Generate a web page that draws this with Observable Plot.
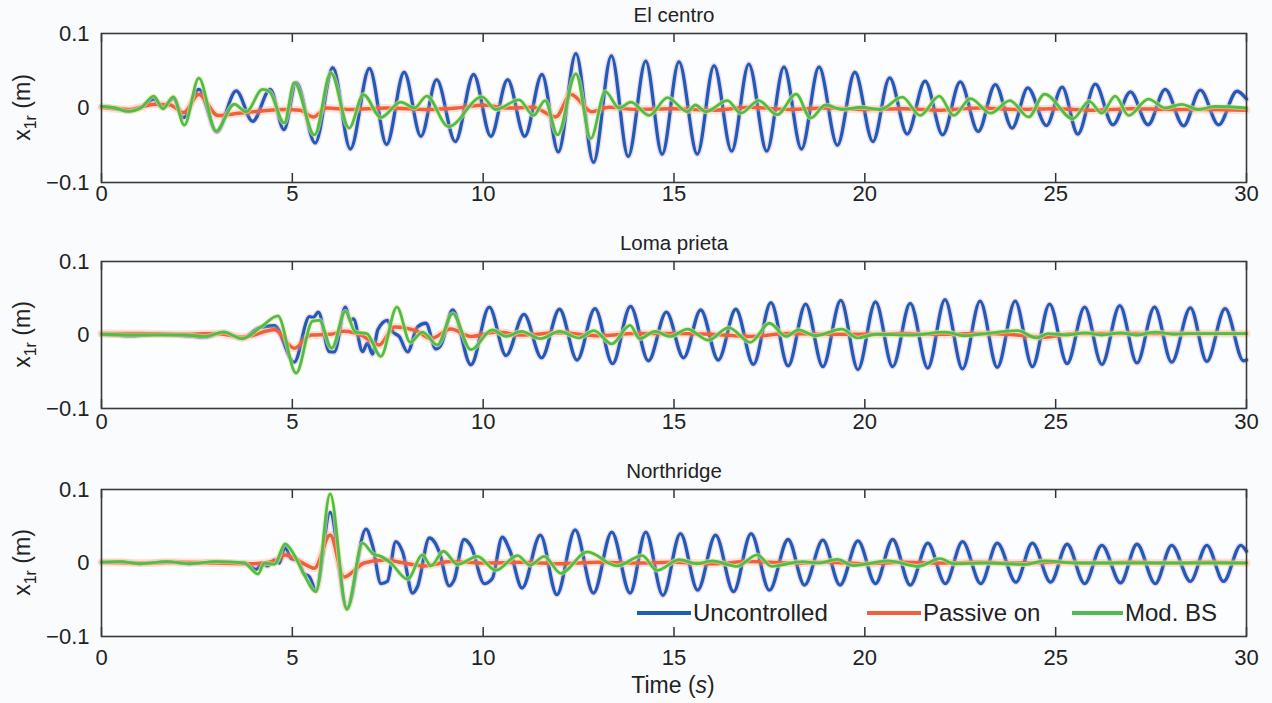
<!DOCTYPE html>
<html>
<head>
<meta charset="utf-8">
<script src="https://cdn.jsdelivr.net/npm/d3@7"></script>
<script src="https://cdn.jsdelivr.net/npm/@observablehq/plot@0.6"></script>
<style>
  html, body { margin: 0; padding: 0; background: #fafbfd; }
  #wrap { position: relative; width: 1272px; height: 703px; font-family: "Liberation Sans", Arial, Helvetica, sans-serif; }
  #wrap svg { position: absolute; left: 0; }
  .legend { position: absolute; top: 599px; height: 28px; display: flex; align-items: center; font-size: 24px; color: #222; }
  .legend .sw { display: inline-block; height: 4px; margin-right: 2px; }
  .xlabel { position: absolute; left: 0; width: 1346px; top: 672px; text-align: center; font-size: 23px; color: #222; }
</style>
</head>
<body>
<div id="wrap"></div>
<script>
// ---------------- data: [time (s), x1r (m)] ----------------
const xTicks = [0, 5, 10, 15, 20, 25, 30];
const yTicks = [-0.1, 0, 0.1];
const seriesNames = ["Uncontrolled", "Passive on", "Mod. BS"];
const panelTitles = ["El centro", "Loma prieta", "Northridge"];

const elCentroUncontrolled = [[0,0.002],[0.35,0.0],[0.7,-0.004],[1.05,0.001],[1.37,0.012],[1.61,0.0],[1.88,0.013],[2.15,-0.013],[2.55,0.025],[3.02,-0.032],[3.53,0.023],[3.96,-0.018],[4.42,0.025],[4.78,-0.029],[5.1,0.034],[5.6,-0.047],[6.06,0.054],[6.52,-0.055],[7.02,0.053],[7.47,-0.049],[7.93,0.048],[8.37,-0.038],[8.78,0.038],[9.27,-0.045],[9.75,0.045],[10.2,-0.038],[10.64,0.038],[11.09,-0.038],[11.54,0.045],[11.97,-0.059],[12.43,0.073],[12.89,-0.073],[13.36,0.07],[13.8,-0.065],[14.26,0.063],[14.69,-0.062],[15.13,0.062],[15.61,-0.062],[16.05,0.057],[16.51,-0.058],[16.96,0.059],[17.43,-0.058],[17.88,0.055],[18.34,-0.055],[18.8,0.055],[19.28,-0.05],[19.74,0.048],[20.21,-0.045],[20.65,0.0405],[21.11,-0.035],[21.58,0.036],[22.04,-0.036],[22.5,0.035],[22.97,-0.0315],[23.42,0.0315],[23.86,-0.027],[24.27,0.027],[24.76,-0.0235],[25.17,0.028],[25.58,-0.035],[26.04,0.032],[26.5,-0.0225],[26.96,0.0216],[27.42,-0.0225],[27.87,0.025],[28.35,-0.024],[28.79,0.024],[29.27,-0.0225],[29.75,0.0225],[30,0.012]];
const elCentroPassive = [[0,0.001],[0.7,-0.002],[1.4,0.005],[1.8,0.004],[2.15,-0.006],[2.55,0.018],[3.05,-0.01],[3.6,-0.007],[4.2,-0.004],[4.8,-0.002],[5.2,-0.003],[5.55,-0.012],[5.9,0.0],[6.5,-0.002],[7.5,0.0],[8.5,-0.002],[9.3,0.0],[10.0,0.004],[10.6,0.0],[11.3,0.001],[11.9,-0.012],[12.3,0.018],[12.85,-0.005],[13.3,0.001],[14,-0.002],[15,-0.001],[16,-0.003],[17,0.001],[18,-0.002],[19,0.0],[20,-0.002],[21,-0.001],[22,-0.003],[23,0.0],[24,-0.002],[25,-0.001],[26,-0.003],[27,-0.001],[28,-0.002],[29,-0.002],[30,-0.003]];
const elCentroModBS = [[0,0.002],[0.35,0.0],[0.7,-0.0045],[1.05,0.001],[1.37,0.016],[1.61,-0.001],[1.88,0.015],[2.17,-0.023],[2.55,0.04],[3.0,-0.031],[3.48,0.005],[3.79,-0.005],[4.22,0.025],[4.4,0.022],[4.79,-0.02],[5.05,0.034],[5.58,-0.036],[6.01,0.047],[6.49,-0.027],[6.86,0.018],[7.32,-0.0126],[7.84,0.008],[8.2,0.0],[8.52,0.016],[9.09,-0.025],[9.97,0.015],[10.33,-0.002],[10.94,0.011],[11.32,-0.01],[11.62,0.01],[11.95,-0.036],[12.43,0.046],[12.82,-0.041],[13.2,0.022],[13.56,0.0],[13.87,0.008],[14.35,-0.01],[14.83,0.014],[15.35,-0.005],[15.56,0.004],[15.83,-0.005],[16.4,0.01],[16.75,-0.007],[17.22,0.01],[17.7,-0.009],[18.2,0.0185],[18.58,-0.0135],[18.97,0.004],[19.41,-0.002],[19.9,0.001],[20.4,-0.002],[20.98,0.0145],[21.45,-0.01],[21.95,0.016],[22.33,-0.01],[22.77,0.0126],[23.29,-0.007],[23.8,0.01],[24.29,-0.012],[24.71,0.0185],[25.45,-0.0144],[25.88,0.009],[26.21,-0.007],[26.56,0.016],[26.91,-0.01],[27.43,0.012],[27.87,0.0],[28.3,0.005],[28.73,-0.002],[29.17,0.002],[30,0.0]];

const lomaPrietaUncontrolled = [[0,0.001],[0.8,-0.001],[1.5,0.001],[2.2,-0.001],[2.7,-0.003],[3.2,0.004],[3.68,-0.005],[4.14,0.01],[4.53,0.0126],[5.05,-0.037],[5.45,0.025],[5.55,0.024],[5.68,0.031],[5.97,-0.0225],[6.1,-0.023],[6.39,0.038],[6.52,0.02],[6.6,0.022],[6.84,-0.0225],[6.97,-0.011],[7.1,-0.026],[7.24,0.007],[7.49,0.02],[7.63,0.0045],[7.8,-0.002],[8.02,-0.023],[8.28,0.011],[8.5,0.016],[8.76,-0.019],[8.89,-0.014],[9.2,0.034],[9.68,-0.0405],[10.16,0.038],[10.6,-0.028],[11.07,0.028],[11.53,-0.031],[12.0,0.035],[12.46,-0.034],[12.93,0.036],[13.39,-0.039],[13.86,0.039],[14.33,-0.035],[14.8,0.031],[15.25,-0.031],[15.7,0.034],[16.16,-0.034],[16.62,0.035],[17.08,-0.04],[17.54,0.044],[17.99,-0.042],[18.45,0.042],[18.9,-0.043],[19.37,0.047],[19.82,-0.047],[20.28,0.045],[20.73,-0.043],[21.19,0.043],[21.65,-0.045],[22.1,0.048],[22.56,-0.046],[23.02,0.046],[23.47,-0.044],[23.94,0.046],[24.39,-0.043],[24.84,0.042],[25.3,-0.039],[25.76,0.038],[26.21,-0.04],[26.68,0.04],[27.13,-0.038],[27.59,0.038],[28.04,-0.037],[28.53,0.037],[28.96,-0.036],[29.44,0.036],[29.92,-0.035],[30,-0.034]];
const lomaPrietaPassive = [[0,0.002],[1,0.002],[2,0.001],[3,0.002],[3.7,-0.003],[4.53,0.007],[5.05,-0.018],[5.49,0.0],[6.0,0.001],[6.36,0.005],[6.8,0.0],[7.28,-0.0135],[7.67,0.011],[8.28,0.005],[8.63,-0.005],[9.15,0.008],[9.68,-0.002],[10.37,0.004],[11,0.0],[12,0.003],[13,-0.001],[14,0.002],[15,0.002],[16,0.001],[17,-0.002],[18,0.002],[19,0.001],[20,0.001],[21,0.002],[22,0.001],[23,0.002],[24,0.0],[24.7,-0.003],[25.5,0.002],[26.5,0.002],[27.5,0.002],[28.5,0.002],[29.5,0.002],[30,0.002]];
const lomaPrietaModBS = [[0,0.001],[0.8,0.0],[1.5,0.0],[2.2,0.0],[2.7,-0.002],[3.2,0.004],[3.68,-0.005],[4.18,0.011],[4.62,0.026],[5.1,-0.052],[5.53,0.019],[5.71,0.02],[6.03,-0.018],[6.39,0.032],[6.65,0.004],[6.95,0.002],[7.32,-0.029],[7.74,0.038],[8.09,-0.01],[8.41,0.004],[8.8,-0.0135],[9.2,0.029],[9.68,-0.02],[10.24,0.007],[10.6,-0.002],[11.0,0.005],[11.5,-0.005],[12.0,0.005],[12.5,-0.004],[12.9,0.006],[13.37,-0.012],[13.85,0.013],[14.1,-0.005],[14.5,0.005],[14.9,-0.002],[15.35,0.008],[15.9,-0.007],[16.43,0.01],[17.0,-0.01],[17.5,0.016],[17.94,-0.002],[18.26,0.007],[18.7,-0.001],[19.4,0.008],[19.8,-0.004],[20.3,0.001],[21.2,0.0],[22.1,0.004],[22.6,-0.001],[23.0,0.001],[24.0,0.006],[24.5,-0.004],[24.8,0.002],[25.3,0.0],[25.77,0.003],[26.2,0.0],[26.7,0.003],[27.1,0.0],[27.6,0.004],[28.1,0.001],[28.5,0.002],[29.3,0.002],[30,0.002]];

const northridgeUncontrolled = [[0,0.001],[0.5,0.002],[1.0,-0.001],[1.7,0.002],[2.3,-0.001],[3.0,0.002],[3.5,0.0],[3.74,0.0],[4.05,-0.0086],[4.22,-0.001],[4.35,-0.004],[4.53,0.004],[4.66,0.0],[4.81,0.022],[4.97,0.006],[5.14,0.004],[5.3,-0.014],[5.45,-0.019],[5.62,-0.037],[5.99,0.069],[6.43,-0.062],[6.93,0.046],[7.11,0.022],[7.32,-0.028],[7.49,-0.025],[7.71,0.029],[7.89,0.015],[8.15,-0.041],[8.28,-0.032],[8.59,0.034],[8.72,0.029],[8.85,0.015],[9.11,-0.031],[9.24,-0.023],[9.5,0.032],[9.68,0.023],[10.03,-0.028],[10.24,-0.021],[10.5,0.035],[10.7,0.017],[11.02,-0.034],[11.5,0.038],[11.93,-0.043],[12.41,0.045],[12.89,-0.041],[13.37,0.042],[13.85,-0.041],[14.26,0.042],[14.71,-0.044],[15.17,0.04],[15.62,-0.037],[16.09,0.038],[16.56,-0.039],[17.02,0.04],[17.5,-0.037],[17.99,0.032],[18.42,-0.03],[18.9,0.031],[19.35,-0.03],[19.82,0.03],[20.28,-0.028],[20.73,0.032],[21.19,-0.03],[21.65,0.027],[22.11,-0.028],[22.56,0.029],[23.04,-0.028],[23.47,0.027],[23.96,-0.026],[24.39,0.027],[24.87,-0.026],[25.3,0.0255],[25.76,-0.028],[26.21,0.024],[26.7,-0.027],[27.13,0.0255],[27.61,-0.028],[28.04,0.024],[28.53,-0.025],[28.96,0.024],[29.4,-0.025],[29.85,0.024],[30,0.016]];
const northridgePassive = [[0,0.001],[1,0.0],[2,0.001],[3,0.0],[4,-0.001],[4.5,0.002],[4.81,0.011],[5.2,0.002],[5.58,-0.007],[5.99,0.038],[6.36,-0.019],[6.88,0.0],[7.41,0.004],[7.93,0.0],[8.46,-0.004],[9.15,0.002],[10,0.0],[11,0.001],[12,-0.001],[13,0.001],[14,0.0],[15,0.001],[16,-0.001],[17,0.002],[18,0.0],[19,0.001],[20,-0.001],[21,0.001],[22,0.0],[23,0.001],[24,0.0],[25,0.001],[26,0.0],[27,0.001],[28,0.0],[29,0.001],[30,0.0]];
const northridgeModBS = [[0,0.001],[0.5,0.002],[1.0,-0.001],[1.7,0.002],[2.3,-0.001],[3.0,0.002],[3.74,0.0],[4.1,-0.015],[4.27,0.0],[4.53,-0.002],[4.81,0.026],[5.05,0.011],[5.31,-0.016],[5.62,-0.039],[5.99,0.094],[6.43,-0.063],[6.84,0.027],[7.11,0.0126],[7.32,0.009],[7.58,0.0],[8.02,-0.022],[8.41,0.011],[8.63,-0.004],[8.96,0.016],[9.33,-0.002],[9.85,0.009],[10.33,-0.01],[10.9,0.01],[11.23,-0.003],[11.6,0.009],[12.03,-0.014],[12.73,0.015],[13.5,-0.004],[14.17,0.01],[14.55,-0.01],[15.14,0.0045],[15.6,-0.001],[16.0,0.003],[16.65,-0.0045],[17.18,0.011],[17.56,-0.0045],[18.37,0.002],[18.8,0.0],[19.28,0.005],[19.7,-0.0035],[20.62,0.003],[21.4,-0.0045],[21.97,0.006],[22.34,-0.001],[23.2,0.0],[24.2,-0.002],[24.7,0.003],[25.5,0.0],[26.5,0.0],[27.5,0.0],[28.5,0.0],[30,0.0]];

// ---------------- styling ----------------
const colors = {unc: "#1f5cb8", pas: "#f0603a", bs: "#50bb4e"};
const W = 1272;
const panels = [
  {title: panelTitles[0], unc: elCentroUncontrolled, pas: elCentroPassive, bs: elCentroModBS, top: 0, height: 228, mb: 46, pad: 3},
  {title: panelTitles[1], unc: lomaPrietaUncontrolled, pas: lomaPrietaPassive, bs: lomaPrietaModBS, top: 228, height: 228, mb: 48, pad: 5},
  {title: panelTitles[2], unc: northridgeUncontrolled, pas: northridgePassive, bs: northridgeModBS, top: 456, height: 247, mb: 67, pad: 13}
];
const toRows = arr => arr.map(([t, v]) => ({t, v}));
const yFmt = d => d === 0 ? "0" : (d < 0 ? "\u22120.1" : "0.1");
const wrap = document.getElementById("wrap");

for (const p of panels) {
  const mt = 33;
  const plotH = p.height - mt - p.mb;
  const lineOpts = {x: "t", y: "v", curve: "monotone-x"};
  const svg = Plot.plot({
    width: W, height: p.height,
    marginLeft: 101, marginRight: 26, marginTop: mt, marginBottom: p.mb,
    style: {background: "transparent", fontFamily: "Liberation Sans, Arial, Helvetica, sans-serif", fontSize: "22px", color: "#222"},
    x: {domain: [0, 30], label: null},
    y: {domain: [-0.1, 0.1], label: null},
    marks: [
      Plot.frame({fill: "#fcfdff"}),
      Plot.line(toRows(p.unc), {...lineOpts, stroke: "#e9c4dc", strokeWidth: 6, strokeOpacity: 0.6}),
      Plot.line(toRows(p.unc), {...lineOpts, stroke: colors.unc, strokeWidth: 3.3}),
      Plot.line(toRows(p.pas), {...lineOpts, stroke: "#f7a58a", strokeWidth: 8, strokeOpacity: 0.3}),
      Plot.line(toRows(p.pas), {...lineOpts, stroke: colors.pas, strokeWidth: 3.5}),
      Plot.line(toRows(p.bs), {...lineOpts, stroke: "#e6ef8a", strokeWidth: 5, strokeOpacity: 0.6}),
      Plot.line(toRows(p.bs), {...lineOpts, stroke: colors.bs, strokeWidth: 2.8}),
      Plot.ruleX(xTicks, {insetTop: plotH - 9, stroke: "#333", strokeWidth: 1.5}),
      Plot.ruleX(xTicks, {insetBottom: plotH - 9, stroke: "#333", strokeWidth: 1.5}),
      Plot.frame({stroke: "#3a3a3a", strokeWidth: 1.6}),
      Plot.axisX({ticks: xTicks, tickSize: 0, tickPadding: p.pad, label: null, tickFormat: d => String(d)}),
      Plot.axisY({ticks: yTicks, tickSize: 0, tickPadding: 12, label: null, tickFormat: yFmt}),
      Plot.text([p.title], {frameAnchor: "top", dy: -26, fontSize: 20.5, fill: "#222"})
    ]
  });
  svg.style.top = p.top + "px";
  // y-axis label  x_{1r} (m)
  const cy = mt + plotH / 2;
  const lab = d3.select(svg).append("text")
    .attr("transform", `translate(30,${cy}) rotate(-90)`)
    .attr("text-anchor", "middle")
    .attr("font-size", 23)
    .attr("fill", "#222");
  lab.append("tspan").text("x");
  lab.append("tspan").attr("font-size", 16).attr("dy", 6).text("1r");
  lab.append("tspan").attr("dy", -6).text(" (m)");
  wrap.appendChild(svg);
}

// legend (inside the Northridge panel)
const legendItems = [
  {name: seriesNames[0], color: colors.unc, left: 637, sw: 54},
  {name: seriesNames[1], color: colors.pas, left: 867, sw: 54},
  {name: seriesNames[2], color: colors.bs, left: 1072, sw: 51}
];
for (const it of legendItems) {
  const d = document.createElement("div");
  d.className = "legend";
  d.style.left = it.left + "px";
  d.innerHTML = `<span class="sw" style="width:${it.sw}px;background:${it.color}"></span><span>${it.name}</span>`;
  wrap.appendChild(d);
}
// x-axis title
const xl = document.createElement("div");
xl.className = "xlabel";
xl.innerHTML = "Time (<i>s</i>)";
wrap.appendChild(xl);
</script>
</body>
</html>
